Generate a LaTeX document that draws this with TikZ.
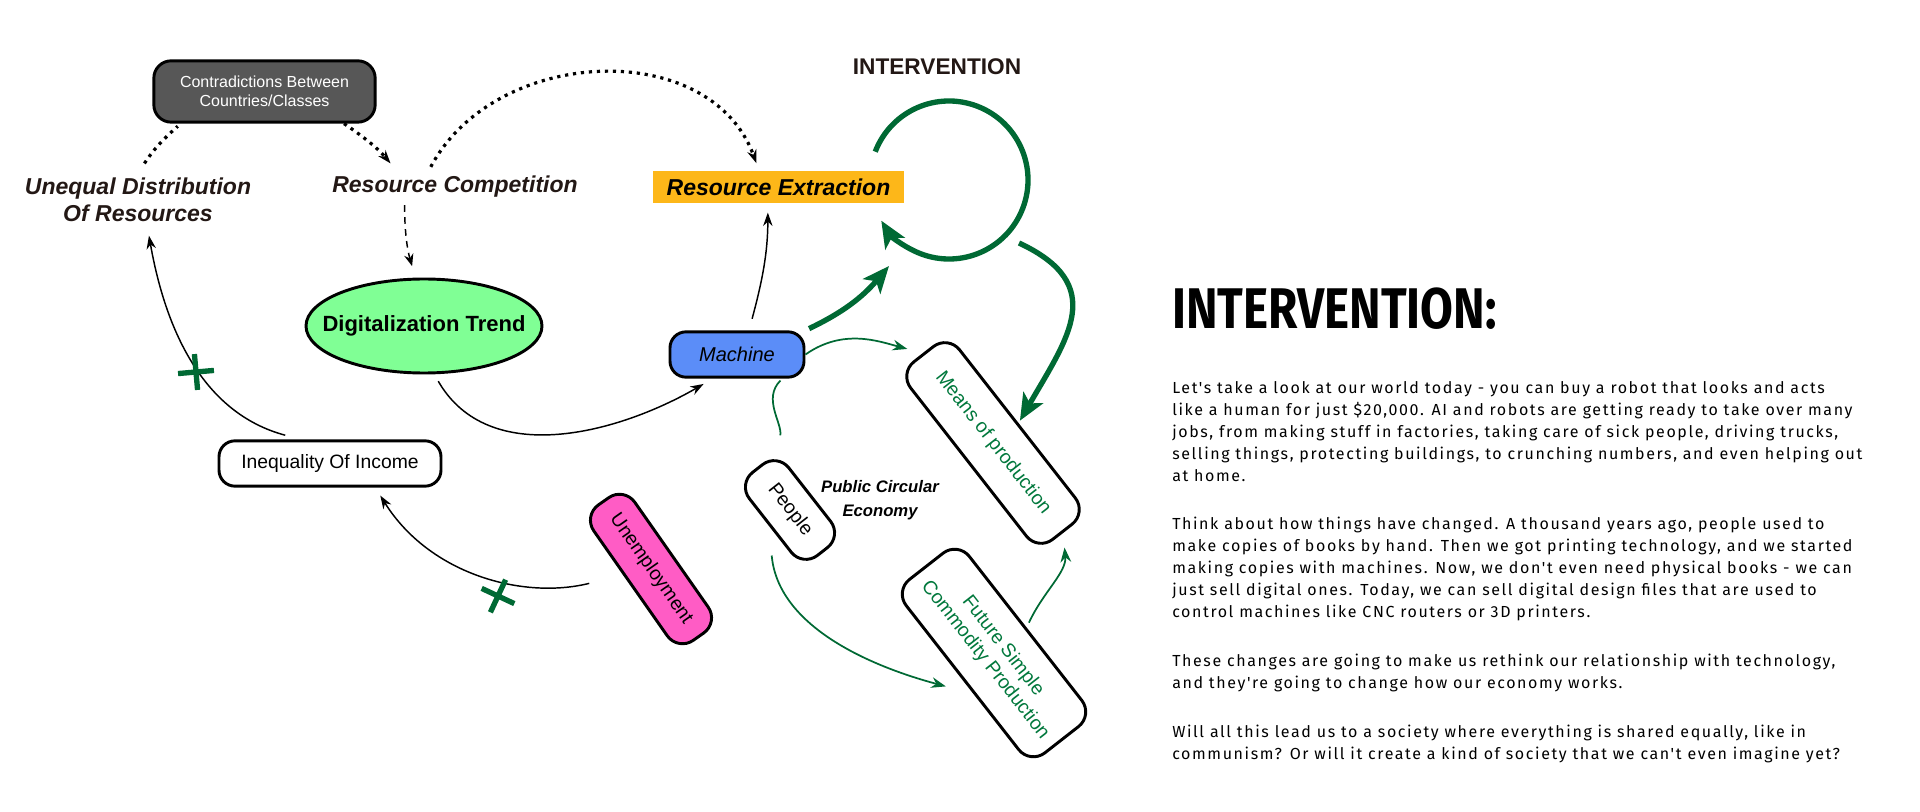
\documentclass[tikz,border=0pt]{standalone}
\usepackage{fontspec}
\setmainfont{Liberation Sans}
\newfontfamily\bodyfont[LetterSpace=10]{Fira Sans}
\newfontfamily\headfont[FakeStretch=0.83]{Fira Sans}
\usepackage{tikz}
\usetikzlibrary{arrows.meta, positioning, shapes.geometric}
\definecolor{inktext}{HTML}{231815}
\definecolor{darkbox}{HTML}{575757}
\definecolor{orangebox}{HTML}{FDB719}
\definecolor{greenoval}{HTML}{80FF95}
\definecolor{bluebox}{HTML}{5B8DF8}
\definecolor{pinkbox}{HTML}{FF5CC5}
\definecolor{loopgreen}{HTML}{006934}
\definecolor{textgreen}{HTML}{00783C}
\newcommand{\crossmark}[3]{%
  \draw[loopgreen, line width=4pt, rotate around={#3:(#1,#2)}]
    (#1-18,#2) -- (#1+18,#2) (#1,#2-18) -- (#1,#2+18);%
}
\tikzset{
  pill/.style={draw=black, line width=2.2pt, rounded corners=14pt, inner sep=0pt,
    font=\fontsize{14.5}{17}\selectfont},
  bigitalic/.style={font=\fontsize{17.25}{20}\selectfont\bfseries\itshape, text=inktext},
  blackarrow/.style={-{Stealth[length=10pt,width=7pt]}, line width=1.1pt},
  dotline/.style={line width=2.4pt, dash pattern=on 2.4pt off 3.6pt},
  dotarrow/.style={-{Stealth[length=10pt,width=7pt]}},
  dashline/.style={line width=1.1pt, dash pattern=on 5pt off 4pt, -{Stealth[length=9pt,width=7pt]}},
  thickgreen/.style={loopgreen, line width=4pt, -{Stealth[length=20pt,width=17pt,inset=5pt]}},
  thingreen/.style={loopgreen, line width=1.3pt, -{Stealth[length=11pt,width=8pt]}},
  essay/.style={align=left, inner sep=0pt, font=\bodyfont\fontsize{12}{16.5}\selectfont},
}

\begin{document}
\begin{tikzpicture}[x=0.75pt, y=0.75pt]
  \useasboundingbox (0,0) rectangle (1920,-812);
  \fill[white] (0,0) rectangle (1920,-812);

  % left loop of the diagram
  \node[font=\fontsize{17}{20}\selectfont\bfseries, text=inktext] (title) at (937,-67) {INTERVENTION};
  \node[fill=darkbox, draw=black, line width=2.2pt, rounded corners=13pt, text=white, align=center,
    minimum width=166pt, minimum height=46pt, inner sep=0pt, font=\fontsize{12}{14.5}\selectfont]
    (contra) at (264.5,-91.5) {Contradictions Between\\Countries/Classes};
  \node[bigitalic, align=center] (unequal) at (138,-200) {Unequal Distribution\\Of Resources};
  \node[bigitalic] (rcomp) at (455,-187) {Resource Competition};
  \node[bigitalic, text=black, fill=orangebox, minimum width=188pt, minimum height=24pt, inner sep=0pt]
    (rextr) at (778.5,-187) {Resource Extraction};
  \node[ellipse, draw=black, line width=2.2pt, fill=greenoval, minimum width=177pt, minimum height=70.5pt,
    inner sep=0pt, font=\fontsize{16.5}{19}\selectfont\bfseries] (digital) at (424,-326) {\makebox[0pt]{Digitalization Trend}};
  \node[pill, fill=bluebox, minimum width=100.5pt, minimum height=34pt, rounded corners=12pt,
    font=\fontsize{15}{18}\selectfont\itshape] (machine) at (737,-354.5) {Machine};
  \node[pill, minimum width=166.5pt, minimum height=34pt, rounded corners=12pt] (inequal) at (330,-463.5) {Inequality Of Income};
  \node[pill, fill=pinkbox, rotate=-55, minimum width=124pt, minimum height=37.5pt] (unemp) at (651,-569) {Unemployment};

  % circular economy
  \node[pill, rotate=-52, minimum width=79pt, minimum height=37.5pt] (people) at (790,-510) {People};
  \node[font=\fontsize{12.5}{18}\selectfont\bfseries\itshape, align=center] (pce) at (880,-500) {Public Circular\\Economy};
  \node[pill, rotate=-52, text=textgreen, minimum width=169pt, minimum height=46.5pt] (means) at (993,-443) {Means of production};
  \node[pill, rotate=-52, text=textgreen, align=center, minimum width=165pt, minimum height=60pt]
    (future) at (994,-653) {Future Simple\\Commodity Production};
  \coordinate (loopc) at (949,-180);

  \draw[dotline, shorten <=9pt, shorten >=3pt] (unequal.north) to[bend left=8] (contra.201);
  \draw[dotline, dotarrow, shorten >=8pt] (contra.338) to[bend left=8] (rcomp.165);
  \draw[dotline, dotarrow, shorten <=4pt, shorten >=6pt] (rcomp.150) to[out=62, in=110, looseness=1.1] (rextr.140);
  \draw[dashline, shorten <=2pt, shorten >=9pt] (rcomp.197) to[bend right=8] (digital.100);

  \draw[blackarrow, shorten <=9pt, shorten >=7pt] ([xshift=9pt]machine.north) to[out=75, in=-90] ([xshift=-8pt]rextr.south);
  \draw[blackarrow, shorten <=6pt, shorten >=8pt] (digital.-78) to[out=-60, in=210] (machine.225);
  \draw[blackarrow, shorten <=12pt, shorten >=7pt] ([xshift=-22pt]inequal.north) to[out=165, in=-80] ([xshift=7pt]unequal.south);
  \draw[blackarrow, shorten <=26pt, shorten >=7pt] (unemp.247) to[out=194, in=-58] ([xshift=34pt]inequal.south);
  \crossmark{196}{-372}{5}
  \crossmark{498}{-596}{-25}

  % intervention loop
  \draw[thickgreen] ([shift={(159:79)}]loopc) arc[start angle=159, end angle=-149, radius=79];
  \draw[thickgreen, shorten <=3pt] (machine.north east) to[bend right=12] ([shift={(-60,-86)}]loopc);
  \draw[thickgreen, shorten >=2pt] ([shift={(70,-63)}]loopc) to[out=-25, in=60, looseness=1.4] (means.north);

  \draw[thingreen, shorten >=12pt] (machine.east) to[out=35, in=165] (means.west);
  \draw[loopgreen, line width=1.3pt, shorten <=2pt, shorten >=12pt] ([xshift=34pt]machine.south) to[out=225, in=80] (people.north west);
  \draw[thingreen, shorten <=22pt, shorten >=12pt] (people.south) to[out=-85, in=165] ([yshift=-9pt]future.south);
  \draw[thingreen, shorten <=4pt, shorten >=11pt] (future.north) to[out=65, in=-85] (means.east);

  % text column
  \node[anchor=west, inner sep=0pt, font=\headfont\bfseries\fontsize{43}{46}\selectfont] (heading) at (1172,-309) {INTERVENTION:};
  \node[essay, anchor=north west] (essay) at (1172,-381) {Let's take a look at our world today - you can buy a robot that looks and acts\\
like a human for just \$20,000. AI and robots are getting ready to take over many\\
jobs, from making stuff in factories, taking care of sick people, driving trucks,\\
selling things, protecting buildings, to crunching numbers, and even helping out\\
at home.\\[20pt]
Think about how things have changed. A thousand years ago, people used to\\
make copies of books by hand. Then we got printing technology, and we started\\
making copies with machines. Now, we don't even need physical books - we can\\
just sell digital ones. Today, we can sell digital design files that are used to\\
control machines like CNC routers or 3D printers.\\[20pt]
These changes are going to make us rethink our relationship with technology,\\
and they're going to change how our economy works.\\[20pt]
Will all this lead us to a society where everything is shared equally, like in\\
communism? Or will it create a kind of society that we can't even imagine yet?};
\end{tikzpicture}
\end{document}
